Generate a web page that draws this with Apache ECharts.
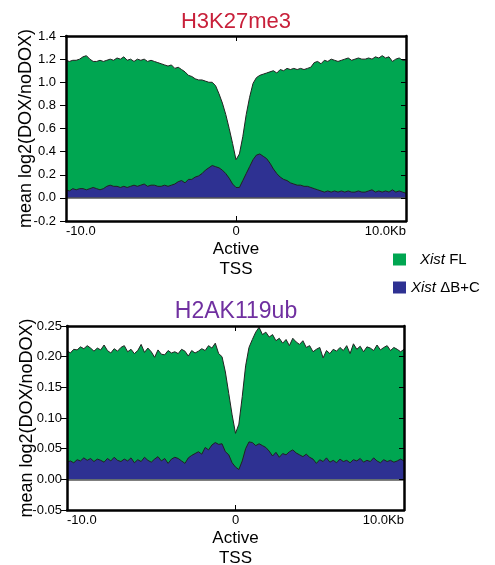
<!DOCTYPE html>
<html>
<head>
<meta charset="utf-8">
<script src="https://cdn.jsdelivr.net/npm/echarts@6/dist/echarts.min.js"></script>
<style>
  html, body { margin: 0; padding: 0; background: #fff; }
  #main { width: 495px; height: 565px; }
</style>
</head>
<body>
<div id="main"></div>
<script>
// position relative to the active TSS, kb (every 0.2 kb from -10 to 10)
var positions = [];
for (var i = 0; i <= 100; i++) positions.push(Math.round((-10 + i * 0.2) * 10) / 10);

// H3K27me3, Xist FL
var k27FL = [
  1.19, 1.18, 1.19, 1.19, 1.20, 1.22, 1.23, 1.20, 1.18, 1.18,
  1.19, 1.18, 1.19, 1.20, 1.19, 1.21, 1.20, 1.22, 1.19, 1.20,
  1.18, 1.20, 1.19, 1.20, 1.18, 1.19, 1.18, 1.17, 1.16, 1.15,
  1.14, 1.15, 1.12, 1.13, 1.11, 1.09, 1.06, 1.05, 1.03, 1.02,
  1.02, 1.01, 1.00, 1.00, 0.97, 0.90, 0.82, 0.72, 0.60, 0.47,
  0.33, 0.38, 0.53, 0.72, 0.87, 0.99, 1.04, 1.06, 1.07, 1.08,
  1.09, 1.10, 1.08, 1.11, 1.10, 1.12, 1.11, 1.12, 1.11, 1.12,
  1.11, 1.12, 1.13, 1.17, 1.18, 1.16, 1.19, 1.18, 1.20, 1.19,
  1.18, 1.19, 1.20, 1.21, 1.19, 1.20, 1.21, 1.20, 1.20, 1.21,
  1.20, 1.22, 1.21, 1.23, 1.21, 1.22, 1.18, 1.20, 1.21, 1.19,
  1.19
];
// H3K27me3, Xist dB+C
var k27dBC = [
  0.07, 0.06, 0.08, 0.07, 0.08, 0.08, 0.07, 0.08, 0.09, 0.08,
  0.07, 0.08, 0.10, 0.11, 0.10, 0.10, 0.09, 0.10, 0.09, 0.10,
  0.11, 0.10, 0.11, 0.12, 0.10, 0.11, 0.11, 0.10, 0.10, 0.11,
  0.10, 0.11, 0.12, 0.14, 0.15, 0.13, 0.16, 0.16, 0.18, 0.19,
  0.21, 0.24, 0.26, 0.28, 0.27, 0.26, 0.24, 0.21, 0.17, 0.12,
  0.09, 0.09, 0.15, 0.21, 0.27, 0.33, 0.37, 0.38, 0.36, 0.34,
  0.30, 0.25, 0.21, 0.18, 0.16, 0.15, 0.13, 0.12, 0.11, 0.11,
  0.10, 0.10, 0.09, 0.08, 0.07, 0.06, 0.05, 0.06, 0.05, 0.06,
  0.05, 0.06, 0.05, 0.06, 0.05, 0.05, 0.06, 0.05, 0.05, 0.06,
  0.07, 0.05, 0.06, 0.05, 0.06, 0.05, 0.07, 0.05, 0.06, 0.05,
  0.04
];
// H2AK119ub, Xist FL
var ubFL = [
  0.210, 0.206, 0.212, 0.211, 0.216, 0.213, 0.218, 0.214, 0.209, 0.214,
  0.211, 0.219, 0.210, 0.206, 0.213, 0.209, 0.215, 0.218, 0.208, 0.212,
  0.205, 0.210, 0.220, 0.207, 0.214, 0.208, 0.199, 0.211, 0.204, 0.203,
  0.210, 0.206, 0.208, 0.205, 0.212, 0.209, 0.201, 0.210, 0.206, 0.209,
  0.213, 0.210, 0.218, 0.214, 0.222, 0.205, 0.200, 0.175, 0.140, 0.105,
  0.075, 0.090, 0.135, 0.185, 0.215, 0.228, 0.240, 0.248, 0.236, 0.240,
  0.232, 0.236, 0.226, 0.230, 0.222, 0.228, 0.218, 0.230, 0.224, 0.220,
  0.226, 0.215, 0.218, 0.208, 0.212, 0.215, 0.198, 0.210, 0.205, 0.212,
  0.209, 0.215, 0.210, 0.218, 0.205, 0.221, 0.212, 0.217, 0.208, 0.216,
  0.214, 0.210, 0.219, 0.211, 0.215, 0.218, 0.210, 0.215, 0.212, 0.208,
  0.212
];
// H2AK119ub, Xist dB+C
var ubdBC = [
  0.028, 0.030, 0.027, 0.032, 0.030, 0.035, 0.031, 0.034, 0.029, 0.033,
  0.031, 0.028, 0.034, 0.030, 0.036, 0.031, 0.029, 0.033, 0.030, 0.035,
  0.027, 0.032, 0.029, 0.036, 0.031, 0.028, 0.033, 0.037, 0.030, 0.034,
  0.026, 0.033, 0.036, 0.034, 0.030, 0.026, 0.035, 0.039, 0.042, 0.045,
  0.041, 0.052, 0.048, 0.056, 0.060, 0.057, 0.058, 0.045, 0.040, 0.027,
  0.020, 0.016, 0.030, 0.050, 0.061, 0.060, 0.055, 0.058, 0.055, 0.052,
  0.046, 0.038, 0.044, 0.036, 0.042, 0.040, 0.045, 0.048, 0.043, 0.040,
  0.037, 0.041, 0.036, 0.033, 0.026, 0.032, 0.029, 0.035, 0.028, 0.031,
  0.027, 0.033, 0.029, 0.031, 0.027, 0.032, 0.030, 0.034, 0.028, 0.031,
  0.029, 0.035, 0.030, 0.027, 0.032, 0.029, 0.031, 0.028, 0.030, 0.033,
  0.030
];

var GREEN = "#00a651";
var BLUE = "#2e3192";
var FONT = "Liberation Sans, Arial, sans-serif";

function pairs(vals) {
  var out = [];
  for (var i = 0; i < vals.length; i++) out.push([positions[i], vals[i]]);
  return out;
}

function xBottom(idx) {
  return {
    type: "value", gridIndex: idx, min: -10, max: 10, interval: 10, z: 10,
    axisLine: { show: true, onZero: false, lineStyle: { color: "#000", width: 2.5 } },
    axisTick: { show: true, inside: true, length: 5, lineStyle: { color: "#000", width: 1 } },
    splitLine: { show: false },
    axisLabel: {
      color: "#000", fontFamily: FONT, fontSize: 13, margin: 4,
      alignMinLabel: "left", alignMaxLabel: "right",
      formatter: function (v) {
        if (v === -10) return "-10.0";
        if (v === 10) return "10.0Kb";
        return "0";
      }
    },
    name: "Active\nTSS", nameLocation: "middle", nameGap: 13,
    nameTextStyle: { color: "#000", fontFamily: FONT, fontSize: 17, lineHeight: 20, verticalAlign: "top" }
  };
}
function xTop(idx) {
  return {
    type: "value", gridIndex: idx, position: "top", min: -10, max: 10, interval: 10, z: 10,
    axisLine: { show: true, onZero: false, lineStyle: { color: "#000", width: 2.5 } },
    axisTick: { show: true, inside: true, length: 5, lineStyle: { color: "#000", width: 1 } },
    axisLabel: { show: false }, splitLine: { show: false }
  };
}
function yLeft(idx, min, max, step, digits, margin) {
  return {
    type: "value", gridIndex: idx, min: min, max: max, interval: step, z: 10,
    axisLine: { show: true, onZero: false, lineStyle: { color: "#000", width: 2.5 } },
    axisTick: { show: true, length: 6, lineStyle: { color: "#000", width: 1 } },
    splitLine: { show: false },
    axisLabel: {
      color: "#000", fontFamily: FONT, fontSize: 13, margin: margin,
      formatter: function (v) { return v.toFixed(digits); }
    },
    name: "mean log2(DOX/noDOX)", nameLocation: "middle", nameGap: 31,
    nameMoveOverlap: false,
    nameTextStyle: { color: "#000", fontFamily: FONT, fontSize: 18 }
  };
}
function yRight(idx, min, max, step) {
  return {
    type: "value", gridIndex: idx, position: "right", min: min, max: max, interval: step, z: 10,
    axisLine: { show: true, onZero: false, lineStyle: { color: "#000", width: 2.5 } },
    axisTick: { show: true, inside: true, length: 5, lineStyle: { color: "#000", width: 1 } },
    axisLabel: { show: false }, splitLine: { show: false }
  };
}
function area(name, idx, vals, color, withZero) {
  var s = {
    name: name, type: "line", xAxisIndex: idx * 2, yAxisIndex: idx * 2,
    data: pairs(vals), symbol: "none", smooth: false,
    itemStyle: { color: color },
    lineStyle: { color: "#222", width: 1 },
    areaStyle: { color: color, opacity: 1 }
  };
  if (withZero) {
    s.markLine = {
      silent: true, symbol: "none", label: { show: false },
      lineStyle: { color: "#555", width: 1.5, type: "solid" },
      data: [{ yAxis: 0 }]
    };
  }
  return s;
}

var chart = echarts.init(document.getElementById("main"));
chart.setOption({
  animation: false,
  grid: [
    { left: 66, top: 36, width: 340, height: 185, outerBoundsMode: "none" },
    { left: 67, top: 326, width: 337, height: 184, outerBoundsMode: "none" }
  ],
  xAxis: [xBottom(0), xTop(0), xBottom(1), xTop(1)],
  yAxis: [
    yLeft(0, -0.2, 1.4, 0.2, 1, 10), yRight(0, -0.2, 1.4, 0.2),
    yLeft(1, -0.05, 0.25, 0.05, 2, 5), yRight(1, -0.05, 0.25, 0.05)
  ],
  legend: {
    orient: "vertical", left: 393, top: 252, padding: 0,
    itemWidth: 13, itemHeight: 12, itemGap: 13,
    icon: "rect",
    data: [
      { name: "Xist FL", itemStyle: { color: GREEN, borderWidth: 0 } },
      { name: "Xist ΔB+C", itemStyle: { color: BLUE, borderWidth: 0 } }
    ],
    formatter: function (name) {
      if (name === "Xist FL") return "{s|}{i|Xist} FL";
      return "{i|Xist} ΔB+C";
    },
    textStyle: {
      color: "#000", fontFamily: FONT, fontSize: 15,
      rich: {
        s: { width: 9 },
        i: { fontStyle: "italic", fontFamily: FONT, fontSize: 15, color: "#000" }
      }
    }
  },
  graphic: [
    { type: "text", x: 236, y: 22, style: { text: "H3K27me3", fill: "#c8203a", font: "22px " + FONT, textAlign: "center", textVerticalAlign: "middle" } },
    { type: "text", x: 236, y: 312, style: { text: "H2AK119ub", fill: "#7030a0", font: "23px " + FONT, textAlign: "center", textVerticalAlign: "middle" } }
  ],
  series: [
    area("Xist FL", 0, k27FL, GREEN, false),
    area("Xist ΔB+C", 0, k27dBC, BLUE, true),
    area("Xist FL", 1, ubFL, GREEN, false),
    area("Xist ΔB+C", 1, ubdBC, BLUE, true)
  ]
});
</script>
</body>
</html>
